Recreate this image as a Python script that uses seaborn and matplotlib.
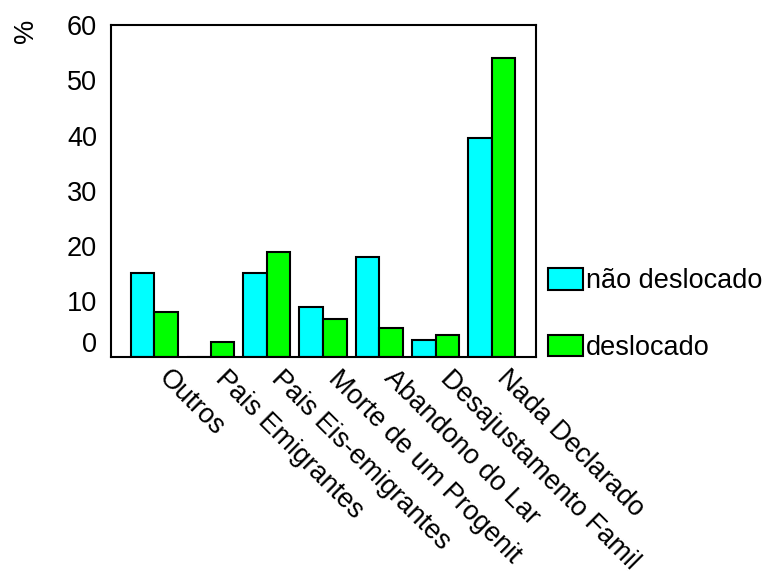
import numpy as np
import pandas as pd
import matplotlib
matplotlib.use('Agg')
import matplotlib.pyplot as plt
import matplotlib.transforms as mtransforms
import seaborn as sns

# chart data
categories = ['Outros', 'Pais Emigrantes', 'Pais Eis-emigrantes', 'Morte de um Progenit',
              'Abandono do Lar', 'Desajustamento Famil', 'Nada Declarado']
nao_deslocado = [15.2, 0.0, 15.2, 9.0, 18.0, 3.0, 39.5]
deslocado = [8.1, 2.7, 19.0, 6.8, 5.2, 4.0, 54.1]
groups = ['não deslocado', 'deslocado']
colors = ['#00FFFF', '#00FF00']
yticks = [0, 10, 20, 30, 40, 50, 60]

df = pd.DataFrame({
    'cat': categories * 2,
    'grupo': [groups[0]] * len(categories) + [groups[1]] * len(categories),
    'pct': nao_deslocado + deslocado,
})

sns.set_style('white')
plt.rcParams['font.family'] = ['Liberation Sans', 'DejaVu Sans']
plt.rcParams['text.color'] = 'black'

fs = 19.5

fig = plt.figure(figsize=(7.68, 5.74), dpi=100)
ax = fig.add_axes([0.1445, 0.3786, 0.553, 0.5778])

sns.barplot(data=df, x='cat', y='pct', hue='grupo', palette=colors, width=0.84,
            edgecolor='black', linewidth=1.5, saturation=1, ax=ax)

ax.set_xlim(-0.77, 6.78)
ax.set_ylim(0, 60)
ax.set_yticks(yticks)
ax.set_xlabel('')
ax.set_ylabel('')
for s in ax.spines.values():
    s.set_visible(True)
    s.set_color('black')
    s.set_linewidth(1.5)

ax.tick_params(axis='both', which='major', length=3, width=1.5, color='black',
               labelsize=fs, labelcolor='black', direction='out')
ax.tick_params(axis='x', pad=6)
ax.tick_params(axis='y', pad=7)
ax.set_xticks(range(len(categories)))
ax.set_xticklabels(categories, rotation=-45, ha='left', va='top', rotation_mode='anchor')

# shift the slanted labels to the right, like in the reference
xoff = mtransforms.ScaledTranslation(18 / 100, 4 / 100, fig.dpi_scale_trans)
for lab in ax.get_xticklabels():
    lab.set_transform(lab.get_transform() + xoff)

# nudge the "0" label up like in the reference
off = mtransforms.ScaledTranslation(0, 15 / 100, fig.dpi_scale_trans)
lab0 = ax.get_yticklabels()[0]
lab0.set_transform(lab0.get_transform() + off)

fig.text(26 / 768, 1 - 31 / 574, '%', fontsize=fs, ha='center', va='center', rotation=90)

sns.move_legend(ax, loc='upper left', bbox_to_anchor=(1.003, 0.30), frameon=False,
                title=None, fontsize=fs, handlelength=1.3, handleheight=0.85,
                handletextpad=0.1, labelspacing=1.5, borderaxespad=0)

fig.savefig('out.png', dpi=100)
